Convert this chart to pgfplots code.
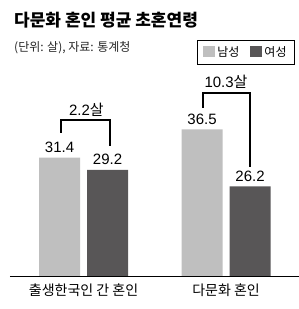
\documentclass[border=0pt]{standalone}
\usepackage{fontspec}
\setmainfont{Liberation Sans}
\newfontfamily\kr{Noto Sans CJK KR}
\usepackage{pgfplots}
\pgfplotsset{compat=1.18}
\definecolor{male}{RGB}{191,191,191}
\definecolor{female}{RGB}{88,86,87}
\begin{document}
\begin{tikzpicture}
\path[use as bounding box] (0pt,0pt) rectangle (299pt,309pt);
\node[anchor=west,inner sep=0] at (14pt,288.5pt) {\kr\bfseries\fontsize{17}{20}\selectfont 다문화 혼인 평균 초혼연령};
\node[anchor=west,inner sep=0,text=black!85] at (14pt,261.5pt) {\kr\fontsize{12}{14}\selectfont (단위: 살), 자료: 통계청};
\begin{axis}[at={(10pt,33pt)}, anchor=south west, scale only axis,
  width=289pt, height=276.5pt,
  xmin=-0.516, xmax=1.512, ymin=10, ymax=60,
  ybar=7pt, bar width=41pt,
  axis x line*=bottom, axis y line=none,
  x axis line style={-,black,line width=0.9pt},
  xtick={0,1}, xticklabels={출생한국인 간 혼인, 다문화 혼인},
  major tick length=0pt,
  xticklabel style={font=\kr\fontsize{14}{16}\selectfont, anchor=center, yshift=-14pt},
  /pgf/number format/assume math mode=true,
  /pgf/number format/fixed, /pgf/number format/precision=1, /pgf/number format/fixed zerofill,
  nodes near coords,
  nodes near coords style={font=\fontsize{15}{17}\selectfont, inner sep=0pt, anchor=south, yshift=4.5pt, text=black},
  legend style={at={(0.986,0.855)}, anchor=north east, draw=black, line width=0.8pt,
    legend columns=2, font=\kr\fontsize{12}{14}\selectfont,
    /tikz/every even column/.append style={column sep=9pt},
    inner xsep=6pt, inner ysep=4.5pt},
  legend image code/.code={\fill[#1] (0pt,-5pt) rectangle (12pt,6pt);},
]
\addplot[fill=male, draw=none] coordinates {(0,31.4) (1,36.5)};
\addlegendentry{남성}
\addplot[fill=female, draw=none] coordinates {(0,29.2) (1,26.2)};
\addlegendentry{여성}
\draw[line width=1.2pt] (axis cs:-0.158,35.86) -- (axis cs:-0.158,38.21) -- (axis cs:0.186,38.21) -- (axis cs:0.186,33.51);
\node[anchor=base, inner sep=0, font=\fontsize{15}{17}\selectfont] at (axis cs:0.02,39.1) {2.2{\kr 살}};
\draw[line width=1.2pt] (axis cs:0.839,40.38) -- (axis cs:0.839,43.09) -- (axis cs:1.168,43.09) -- (axis cs:1.168,29.71);
\node[anchor=base, inner sep=0, font=\fontsize{15}{17}\selectfont] at (axis cs:1.0,44.0) {10.3{\kr 살}};
\end{axis}
\end{tikzpicture}
\end{document}
